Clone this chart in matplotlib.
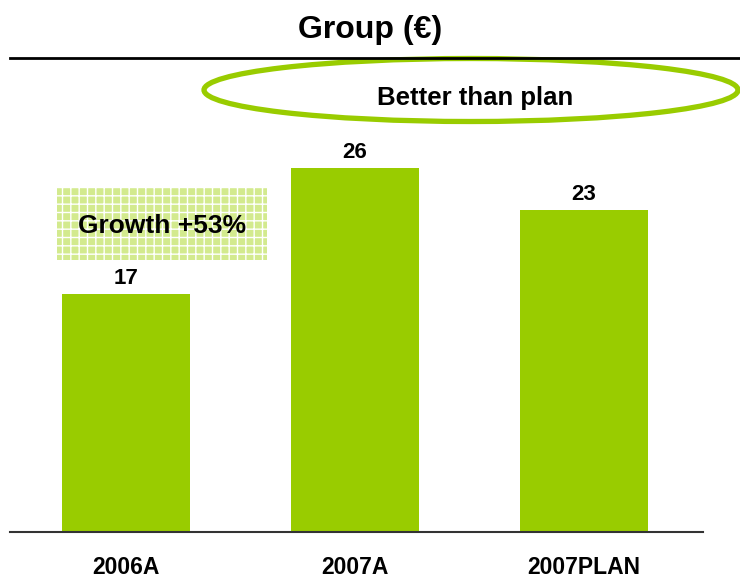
import matplotlib
matplotlib.use("Agg")
import matplotlib.pyplot as plt
from matplotlib.patches import Ellipse, Rectangle

plt.rcParams["font.family"] = ["Liberation Sans", "DejaVu Sans"]
plt.rcParams["hatch.linewidth"] = 1.0

categories = ["2006A", "2007A", "2007PLAN"]
values = [17, 26, 23]
bar_color = "#99cc00"

fig = plt.figure(figsize=(7.4, 5.78), dpi=100)

# main bar area, baseline sits near the bottom
ax = fig.add_axes([10 / 740, 46 / 578, 693 / 740, 472 / 578])
x = range(len(categories))
bars = ax.bar(x, values, width=128 / 229, color=bar_color, zorder=2)
ax.set_xlim(-116 / 229, 577 / 229)
ax.set_ylim(0, 472 / 14)

for b, v in zip(bars, values):
    ax.text(b.get_x() + b.get_width() / 2, v + 1.1, str(v),
            ha="center", va="center", fontsize=16, fontweight="bold")

for s in ["top", "right", "left"]:
    ax.spines[s].set_visible(False)
ax.spines["bottom"].set_color("#333333")
ax.spines["bottom"].set_linewidth(1.5)
ax.set_yticks([])
ax.set_xticks(list(x))
ax.set_xticklabels(categories, fontsize=16.5, fontweight="bold")
ax.tick_params(axis="x", length=0, pad=17)

# hatched "growth" callout above the first bar
box = Rectangle((-69 / 229, 19.45), 210 / 229, 5.2, facecolor="#d3ea8e",
                edgecolor="white", hatch="++", linewidth=0, zorder=1)
ax.add_patch(box)
ax.text(36 / 229, 21.85, "Growth +53%", ha="center", va="center",
        fontsize=19, fontweight="bold", zorder=3)

# overlay in pixel units for title, rule and the ellipse note
top = fig.add_axes([0, 0, 1, 1], facecolor="none")
top.set_xlim(0, 740)
top.set_ylim(578, 0)
top.axis("off")
top.text(370, 30, "Group (€)", ha="center", va="center",
         fontsize=23, fontweight="bold")
top.plot([10, 740], [58, 58], color="black", lw=2)
top.add_patch(Ellipse((471, 90), 534, 63, fill=False,
                      edgecolor=bar_color, lw=3.8))
top.text(475, 98, "Better than plan", ha="center", va="center",
         fontsize=18.5, fontweight="bold")

fig.savefig("out.png", dpi=100)
